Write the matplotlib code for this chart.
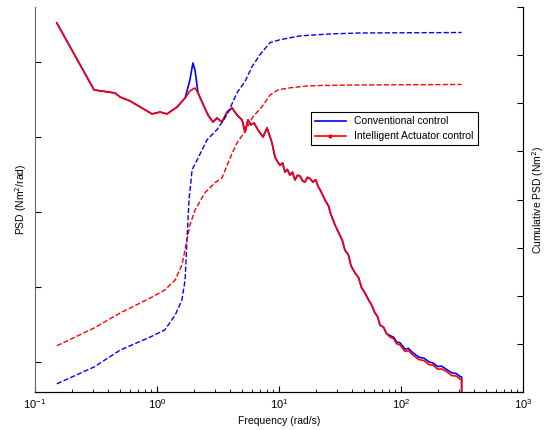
import matplotlib
matplotlib.use("Agg")
import matplotlib.pyplot as plt
from matplotlib.lines import Line2D
from matplotlib.ticker import LogLocator, NullFormatter, FixedLocator

plt.rcParams['font.family'] = ['Liberation Sans', 'DejaVu Sans']

# PSD (left axis, log scale)
freq = [0.151, 0.305, 0.453, 0.498, 0.601, 0.91, 1.06, 1.21, 1.46, 1.70,
        1.86, 1.97, 2.05, 2.17, 2.34, 2.62, 2.88, 3.10, 3.41, 3.75,
        4.12, 4.53, 4.98, 5.26, 5.57, 5.89, 6.24, 6.73, 7.40, 7.98,
        8.77,
        9.27, 9.8, 10.2, 10.7, 11.2, 11.7, 12.3, 12.9, 13.5, 14.2,
        14.9, 15.6, 16.3, 17.1, 17.9, 19.0, 20.0, 20.9, 22.0, 23.8,
        25.5, 26.5, 28.8, 31.0, 33.0, 34.7, 37.0, 39.0, 42.0, 45.0,
        47.5, 50.7, 54.0, 57.0, 61.2, 64.0, 67.3, 72.0, 76.0, 81.3,
        87.0, 92.0, 98.2, 108, 115, 125, 140, 155, 170, 183,
        200, 215, 238, 260, 285, 305, 314, 314]
psd_conv = [3.31, 0.424, 0.386, 0.341, 0.302, 0.203, 0.215, 0.203, 0.251, 0.331,
            0.575, 0.97, 0.78, 0.386, 0.293, 0.196, 0.158, 0.179, 0.158, 0.215,
            0.244, 0.196, 0.169, 0.117, 0.169, 0.145, 0.154, 0.124, 0.100, 0.132,
            0.083,
            0.054, 0.046, 0.042, 0.045, 0.034, 0.037, 0.031, 0.034, 0.0267, 0.031,
            0.030, 0.026, 0.025, 0.029, 0.028, 0.025, 0.027, 0.022, 0.019, 0.0145,
            0.012, 0.0095, 0.0067, 0.0052, 0.0042, 0.0031, 0.0027, 0.0019, 0.00154, 0.00132,
            0.00098, 0.00083, 0.00068, 0.00059, 0.00045, 0.00041, 0.00031, 0.00029, 0.00024, 0.000225,
            0.000214, 0.000185, 0.000180, 0.000148, 0.000152, 0.000133, 0.000116, 0.000112, 0.000100, 0.000097,
            0.000087, 0.000088, 0.000079, 0.000072, 0.000070, 0.000064, 0.000063, 1e-6]
psd_ia = [3.31, 0.424, 0.386, 0.341, 0.302, 0.203, 0.215, 0.203, 0.251, 0.331,
          0.41, 0.437, 0.45, 0.386, 0.293, 0.196, 0.158, 0.179, 0.158, 0.215,
          0.244, 0.196, 0.169, 0.117, 0.169, 0.145, 0.154, 0.124, 0.100, 0.132,
          0.083,
          0.054, 0.046, 0.042, 0.045, 0.034, 0.037, 0.031, 0.034, 0.0267, 0.031,
          0.030, 0.026, 0.025, 0.029, 0.028, 0.025, 0.027, 0.022, 0.019, 0.0145,
          0.012, 0.0095, 0.0067, 0.0052, 0.0042, 0.0031, 0.0027, 0.0019, 0.00154, 0.00132,
          0.00098, 0.00083, 0.00068, 0.00059, 0.00045, 0.00041, 0.00031, 0.00029, 0.00024, 0.000215,
          0.000205, 0.000175, 0.000169, 0.000138, 0.000142, 0.000124, 0.000108, 0.000104, 0.000092, 0.000091,
          0.000080, 0.000081, 0.000074, 0.000066, 0.000065, 0.000059, 0.000058, 1e-6]

# cumulative PSD (right axis)
cfreq_conv = [0.151, 0.305, 0.498, 0.876, 1.16, 1.41, 1.60, 1.70, 1.76, 1.83,
              1.94, 2.17, 2.57, 3.10, 3.75, 4.53, 5.26, 6.01, 6.98, 8.44,
              10.2, 14.9, 26.2, 46.1, 314]
cum_conv = [0.17, 0.52, 0.87, 1.14, 1.29, 1.60, 1.91, 2.33, 3.16, 3.99,
            4.62, 4.86, 5.24, 5.45, 5.76, 6.22, 6.45, 6.76, 7.01, 7.26,
            7.32, 7.40, 7.44, 7.46, 7.47]
cfreq_ia = [0.151, 0.305, 0.498, 0.876, 1.16, 1.41, 1.60, 1.73, 1.86, 2.05,
            2.47, 2.99, 3.41, 3.97, 4.53, 5.26, 6.12, 7.26, 8.44, 9.82,
            12.3, 17.0, 23.0, 46.0, 314]
cum_ia = [0.96, 1.33, 1.64, 1.95, 2.12, 2.33, 2.64, 3.06, 3.47, 3.78,
          4.14, 4.35, 4.45, 4.86, 5.18, 5.41, 5.72, 5.93, 6.17, 6.28,
          6.32, 6.36, 6.37, 6.38, 6.39]

fig = plt.figure(figsize=(5.48, 4.3), dpi=100)
ax = fig.add_axes([35/548, 38/430, 488/548, 385/430])

ax.plot(freq, psd_conv, color='blue', lw=1.2)
ax.plot(freq, psd_ia, color='red', lw=1.2)
ax.set_xscale('log')
ax.set_yscale('log')
ax.set_xlim(0.1, 1000)
ax.set_ylim(10**-4.4, 10**0.733)
ax.yaxis.set_major_locator(FixedLocator([1e-4, 1e-3, 1e-2, 1e-1, 1e0]))
ax.yaxis.set_minor_locator(FixedLocator([]))
ax.yaxis.set_major_formatter(NullFormatter())
ax.yaxis.set_minor_formatter(NullFormatter())
ax.xaxis.set_minor_locator(LogLocator(base=10, subs=range(2, 10)))
ax.tick_params(axis='both', which='both', direction='in', labelsize=8)
ax.tick_params(which='major', length=4)
ax.tick_params(which='minor', length=2)
ax.spines['top'].set_visible(False)
ax.spines['left'].set_color('#666666')
ax.set_xlabel('Frequency (rad/s)', fontsize=7.5)
ax.set_ylabel('PSD (Nm$^2$/rad)', fontsize=7.5)
ax.yaxis.set_label_coords(-0.013, 0.5)

ax2 = ax.twinx()
ax2.plot(cfreq_conv, cum_conv, color='blue', ls='--', lw=1.0)
ax2.plot(cfreq_ia, cum_ia, color='red', ls='--', lw=1.0)
ax2.set_ylim(0, 8)
ax2.set_yticks(range(0, 9))
ax2.set_yticklabels([])
ax2.tick_params(axis='y', direction='in', length=4)
ax2.spines['top'].set_visible(False)
ax2.spines['left'].set_visible(False)
ax2.set_ylabel('Cumulative PSD (Nm$^2$)', fontsize=7.5)
ax2.yaxis.set_label_coords(1.014, 0.5)

handles = [Line2D([], [], color='blue', lw=1.2),
           Line2D([], [], color='red', lw=1.2, marker='.', markersize=4)]
leg = ax2.legend(handles, ['Conventional control', 'Intelligent Actuator control'],
                 loc='upper left', bbox_to_anchor=(0.554, 0.74), fontsize=7.5,
                 fancybox=False, framealpha=1, edgecolor='black',
                 handlelength=3.0, borderpad=0.4, labelspacing=0.45)
leg.get_frame().set_linewidth(0.8)

fig.savefig('out.png', dpi=100)
